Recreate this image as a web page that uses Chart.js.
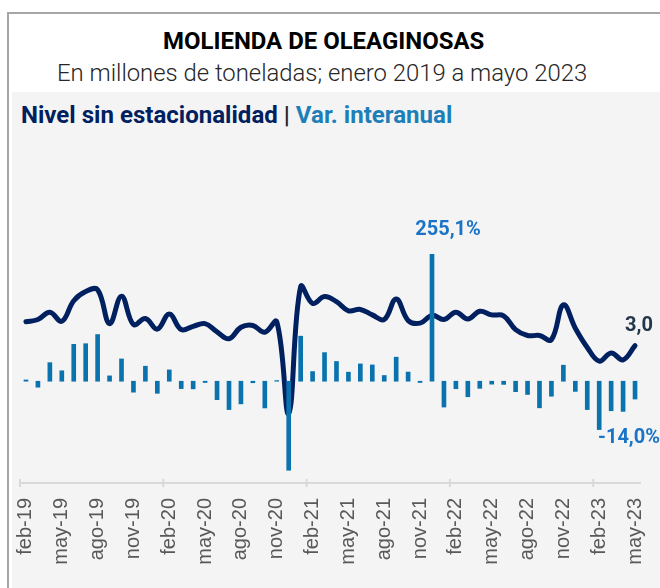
<!DOCTYPE html>
<html lang="es">
<head>
<meta charset="utf-8">
<title>Molienda de oleaginosas</title>
<script src="https://cdn.jsdelivr.net/npm/chart.js@4.4.1/dist/chart.umd.min.js"></script>
<style>
  html, body { margin: 0; padding: 0; background: #fff; }
  body { width: 660px; height: 588px; position: relative; overflow: hidden; font-family: Roboto, "Liberation Sans", sans-serif; }
  #frame { position: absolute; left: 7px; top: 12px; width: 700px; height: 620px; border-left: 2px solid #a6a6a6; border-top: 2px solid #a6a6a6; }
  #panel { position: absolute; left: 12px; top: 92px; right: 0; bottom: 0; background: #f4f4f4; }
  .head { position: absolute; display: inline-block; white-space: nowrap; line-height: 1; transform-origin: left center; }
  #title { left: 163px; top: 29.5px; font-size: 23.5px; font-weight: 700; color: #000; }
  #subtitle { left: 57px; top: 62.2px; font-size: 23.5px; font-weight: 300; color: #262626; }
  #series { left: 21px; top: 103.5px; font-size: 23.5px; font-weight: 700; }
  #series .lvl { color: #002060; }
  #series .sep { color: #262626; }
  #series .var { color: #1e7fb8; }
  #chart { position: absolute; left: 10px; top: 130px; }
</style>
</head>
<body>
<div id="frame"></div>
<div id="panel"></div>
<div class="head" id="title">MOLIENDA DE OLEAGINOSAS</div>
<div class="head" id="subtitle">En millones de toneladas; enero 2019 a mayo 2023</div>
<div class="head" id="series"><span class="lvl">Nivel sin estacionalidad</span><span class="sep"> | </span><span class="var">Var. interanual</span></div>
<canvas id="chart" width="650" height="458"></canvas>

<script>
const months = [
  'feb-19', 'mar-19', 'abr-19', 'may-19', 'jun-19', 'jul-19', 'ago-19', 'sep-19', 'oct-19', 'nov-19', 'dic-19',
  'ene-20', 'feb-20', 'mar-20', 'abr-20', 'may-20', 'jun-20', 'jul-20', 'ago-20', 'sep-20', 'oct-20', 'nov-20', 'dic-20',
  'ene-21', 'feb-21', 'mar-21', 'abr-21', 'may-21', 'jun-21', 'jul-21', 'ago-21', 'sep-21', 'oct-21', 'nov-21', 'dic-21',
  'ene-22', 'feb-22', 'mar-22', 'abr-22', 'may-22', 'jun-22', 'jul-22', 'ago-22', 'sep-22', 'oct-22', 'nov-22', 'dic-22',
  'ene-23', 'feb-23', 'mar-23', 'abr-23', 'may-23'
];

// millones de toneladas, sin estacionalidad
const level = [
  3.52, 3.57, 3.73, 3.53, 3.98, 4.18, 4.22, 3.48, 4.08, 3.46, 3.59,
  3.36, 3.69, 3.35, 3.42, 3.48, 3.30, 3.15, 3.40, 3.44, 3.29, 3.52, 1.52,
  4.29, 3.92, 4.07, 3.96, 3.76, 3.79, 3.67, 3.57, 4.02, 3.55, 3.49, 3.66,
  3.57, 3.73, 3.58, 3.75, 3.67, 3.65, 3.35, 3.22, 3.22, 3.13, 3.89, 3.38,
  2.96, 2.66, 2.84, 2.69, 3.0
];

// variación interanual, %
const variation = [
  1.0, -4.7, 14.6, 8.2, 29.0, 29.5, 36.7, 4.2, 17.5, -8.6, 11.8,
  -9.5, 8.9, -5.8, -6.0, -1.0, -14.5, -22.3, -17.8, -1.2, -21.0, 0.5, -70.0,
  35.4, 7.6, 22.5, 15.5, 7.1, 13.6, 12.8, 4.5, 18.9, 7.2, -1.0, 255.1,
  -20.3, -5.9, -12.2, -5.6, -2.3, -2.5, -8.2, -10.4, -20.9, -11.8, 12.6, -8.0,
  -22.3, -38.0, -23.2, -23.7, -14.0
];

const levelRange = [0, 5];
const variationRange = [-80, 100];

// squeeze the header lines to the width they take in the source
function fitText(id, width) {
  const el = document.getElementById(id);
  el.style.transform = 'scaleX(' + (width / el.offsetWidth) + ')';
}
fitText('title', 321);
fitText('subtitle', 530);
fitText('series', 431);

const fmt = v => v.toFixed(1).replace('.', ',');

const decor = {
  id: 'decor',
  afterDraw(chart) {
    const { ctx, chartArea: area, scales } = chart;
    const x = scales.x;
    const step = x.getPixelForValue(1) - x.getPixelForValue(0);
    ctx.save();

    // axis line, with a mark at every february
    ctx.strokeStyle = '#d9d9d9';
    ctx.lineWidth = 2;
    ctx.beginPath();
    ctx.moveTo(area.left, area.bottom);
    ctx.lineTo(area.right, area.bottom);
    months.forEach((m, i) => {
      if (!m.startsWith('feb')) return;
      const px = x.getPixelForValue(i) - step / 2;
      ctx.moveTo(px, area.bottom - 4);
      ctx.lineTo(px, area.bottom + 4);
    });
    ctx.stroke();

    ctx.font = 'bold 20px Roboto';
    ctx.textBaseline = 'middle';
    const last = months.length - 1;
    const peak = variation.indexOf(Math.max(...variation));

    ctx.fillStyle = '#1a73c6';
    ctx.textAlign = 'center';
    ctx.fillText(fmt(variation[peak]) + '%', x.getPixelForValue(peak) + 16, area.top - 24);

    ctx.textAlign = 'left';
    ctx.fillText(fmt(variation[last]) + '%', x.getPixelForValue(last) - 37,
      scales.yVar.getPixelForValue(variation[last]) + 39);

    ctx.fillStyle = '#26364a';
    ctx.textAlign = 'center';
    ctx.fillText(fmt(level[last]), x.getPixelForValue(last) + 4,
      scales.yLevel.getPixelForValue(level[last]) - 20);

    ctx.restore();
  }
};

new Chart(document.getElementById('chart'), {
  type: 'bar',
  data: {
    labels: months,
    datasets: [
      {
        type: 'bar',
        label: 'Var. interanual',
        data: variation,
        yAxisID: 'yVar',
        backgroundColor: '#0a73ae',
        barThickness: 4,
        order: 0,
      },
      {
        type: 'line',
        label: 'Nivel sin estacionalidad',
        data: level,
        yAxisID: 'yLevel',
        borderColor: '#002060',
        borderWidth: 5,
        pointRadius: 0,
        tension: 0.4,
        borderCapStyle: 'round',
        borderJoinStyle: 'round',
        order: 1,
      },
    ],
  },
  options: {
    responsive: false,
    animation: false,
    layout: { padding: { left: 10, right: 19, top: 124, bottom: 0 } },
    plugins: {
      legend: { display: false },
      tooltip: { enabled: false },
    },
    scales: {
      x: {
        offset: true,
        grid: { display: false, drawTicks: false, tickLength: 0 },
        border: { display: false },
        ticks: {
          autoSkip: false,
          minRotation: 90,
          maxRotation: 90,
          padding: 15,
          color: '#595959',
          font: { family: '"Liberation Sans", Arial, sans-serif', size: 20 },
          callback: (v, i) => (i % 3 === 0 ? months[i] : ''),
        },
        afterFit(scale) {
          scale.height = 105;
          scale.paddingLeft = 0;
          scale.paddingRight = 0;
        },
      },
      yLevel: { display: false, min: levelRange[0], max: levelRange[1] },
      yVar: { display: false, min: variationRange[0], max: variationRange[1] },
    },
  },
  plugins: [decor],
});
</script>
</body>
</html>
